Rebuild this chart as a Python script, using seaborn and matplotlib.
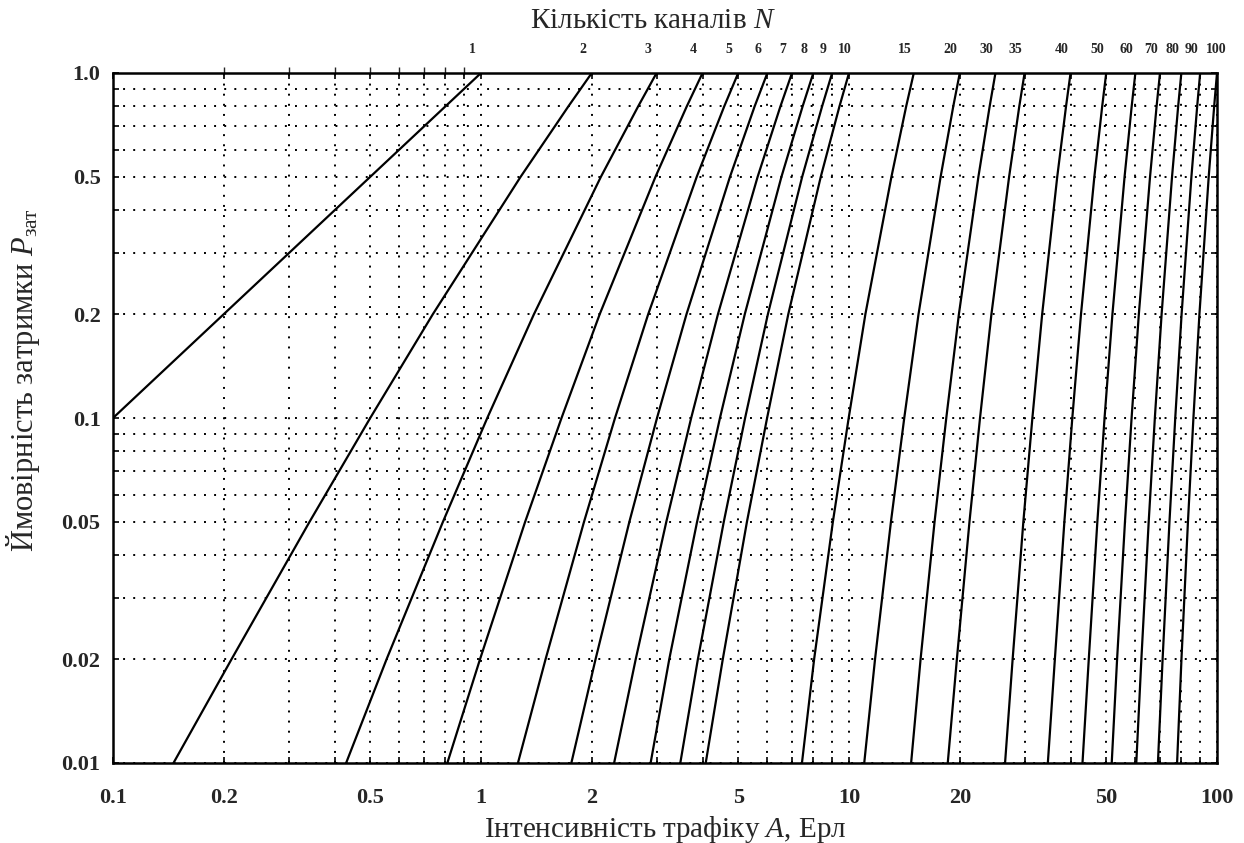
import numpy as np
import pandas as pd
import matplotlib
matplotlib.use("Agg")
import matplotlib.pyplot as plt
import matplotlib.transforms as mtrans
from matplotlib.ticker import FixedLocator, NullFormatter
import seaborn as sns

# ---- data (traffic A, Erl, where each curve crosses a given P) ----
channels = [1, 2, 3, 4, 5, 6, 7, 8, 9, 10, 15, 20, 25, 30, 40, 50, 60, 70, 80, 90, 100]
top_labels = ["1", "2", "3", "4", "5", "6", "7", "8", "9", "10", "15", "20",
              "30", "35", "40", "50", "60", "70", "80", "90", "100"]
nan = np.nan
p_levels = [0.01, 0.02, 0.05, 0.1, 0.2, 0.5, 0.8, 1.0]
A_p001 = [nan, 0.146, 0.43, 0.81, 1.26, 1.76, 2.30, 2.89, 3.48, 4.08, 7.45, 11.0,
          14.75, 18.55, 26.55, 34.7, 43.1, 51.75, 60.35, 69.1, 77.9]
A_p002 = [nan, 0.210, 0.554, 0.994, 1.498, 2.048, 2.633, 3.248, 3.885, 4.54, 8.04, 11.77,
          15.65, 19.64, 27.84, 36.26, 44.83, 53.52, 62.30, 71.15, 80.06]
A_p005 = [nan, 0.342, 0.788, 1.318, 1.905, 2.53, 3.188, 3.865, 4.568, 5.28, 9.04, 13.0,
          17.08, 21.25, 29.77, 38.48, 47.30, 56.22, 65.22, 74.27, 83.38]
A_p01 = [0.1, 0.5, 1.04, 1.655, 2.313, 3.008, 3.725, 4.46, 5.22, 5.99, 9.98, 14.13,
         18.38, 22.70, 31.50, 40.44, 49.48, 58.60, 67.78, 77.01, 86.28]
A_p02 = [0.2, 0.740, 1.393, 2.102, 2.847, 3.618, 4.405, 5.21, 6.02, 6.84, 11.08, 15.45,
         19.89, 24.38, 33.49, 42.70, 51.98, 61.32, 70.71, 80.13, 89.59]
A_p05 = [0.5, 1.281, 2.117, 2.979, 3.856, 4.748, 5.645, 6.552, 7.46, 8.38, 13.04, 17.74,
         22.47, 27.23, 36.80, 46.42, 56.08, 65.77, 75.47, 85.20, 94.94]
A_p08 = [0.8, 1.727, 2.673, 3.623, 4.58, 5.54, 6.51, 7.48, 8.45, 9.42, 14.30, 19.20,
         24.11, 29.02, 38.88, 48.75, 58.63, 68.52, 78.42, 88.33, 98.24]
A_p1 = [1, 2, 3, 4, 5, 6, 7, 8, 9, 10, 15, 20, 25, 30, 40, 50, 60, 70, 80, 90, 100]

x_ticks = [0.1, 0.2, 0.5, 1, 2, 5, 10, 20, 50, 100]
x_ticklabels = ["0.1", "0.2", "0.5", "1", "2", "5", "10", "20", "50", "100"]
y_ticks = [0.01, 0.02, 0.05, 0.1, 0.2, 0.5, 1.0]
y_ticklabels = ["0.01", "0.02", "0.05", "0.1", "0.2", "0.5", "1.0"]

columns = (A_p001, A_p002, A_p005, A_p01, A_p02, A_p05, A_p08, A_p1)
rows = []
for i, n in enumerate(channels):
    for p, col in zip(p_levels, columns):
        a = col[i]
        if not np.isnan(a):
            rows.append({"N": n, "A": a, "P": p})
df = pd.DataFrame(rows)

# ---- style ----
sns.set_theme(style="white")
plt.rcParams["font.family"] = ["Liberation Serif", "DejaVu Serif"]
plt.rcParams["mathtext.fontset"] = "custom"
plt.rcParams["mathtext.rm"] = "Liberation Serif"
plt.rcParams["mathtext.it"] = "Liberation Serif:italic"
plt.rcParams["mathtext.bf"] = "Liberation Serif:bold"

fig = plt.figure(figsize=(12.44, 8.43), dpi=100)
ax = fig.add_axes([113 / 1244, 80 / 843, 1104 / 1244, 690 / 843])

sns.lineplot(data=df, x="A", y="P", units="N", estimator=None, sort=False,
             color="black", linewidth=1.6, ax=ax, legend=False)

ax.set_xscale("log")
ax.set_yscale("log")
ax.set_xlim(0.1, 100)
ax.set_ylim(0.01, 1.0)

minor_x = [m * d for d in (0.1, 1, 10) for m in range(1, 10)] + [100]
minor_x = [v for v in minor_x if not any(abs(v - t) < 1e-9 for t in x_ticks)]
minor_y = [m * d for d in (0.01, 0.1) for m in range(1, 10)] + [1.0]
minor_y = [v for v in minor_y if not any(abs(v - t) < 1e-9 for t in y_ticks)]

ax.xaxis.set_major_locator(FixedLocator(x_ticks))
ax.xaxis.set_minor_locator(FixedLocator(minor_x))
ax.yaxis.set_major_locator(FixedLocator(y_ticks))
ax.yaxis.set_minor_locator(FixedLocator(minor_y))
ax.set_xticklabels(x_ticklabels)
ax.set_yticklabels(y_ticklabels)
ax.xaxis.set_minor_formatter(NullFormatter())
ax.yaxis.set_minor_formatter(NullFormatter())

grid_kw = dict(color="black", linestyle=(0, (1, 4.2)), linewidth=1.4)
ax.grid(True, which="both", axis="both", **grid_kw)

ax.tick_params(which="both", direction="in", length=4, width=1.2,
               top=True, right=True, bottom=True, left=True, color="black")
ax.tick_params(axis="x", which="major", pad=18, labelsize=16)
ax.tick_params(axis="y", which="major", pad=9, labelsize=16)
for lab in ax.get_xticklabels() + ax.get_yticklabels():
    lab.set_fontweight("bold")

for s in ax.spines.values():
    s.set_visible(True)
    s.set_color("black")
    s.set_linewidth(1.8)

ax.set_xlabel("Інтенсивність трафіку $A$, Ерл", fontsize=21, labelpad=4)
ax.set_ylabel("Ймовірність затримки $P_{\\mathrm{зат}}$", fontsize=22)
ax.yaxis.set_label_coords(-0.064, 0.555)

secax = ax.secondary_xaxis("top")
secax.set_xticks(A_p1)
secax.set_xticklabels(top_labels)
secax.tick_params(length=0, pad=12, labelsize=10)
label_shift_px = {"10": -4, "100": -1}
for lab in secax.get_xticklabels():
    lab.set_fontweight("bold")
    dx = label_shift_px.get(lab.get_text(), -9)
    lab.set_transform(lab.get_transform() + mtrans.ScaledTranslation(dx / 100, 0, fig.dpi_scale_trans))
secax.spines["top"].set_visible(False)

fig.text(653 / 1244, 1 - 21 / 843, "Кількість каналів $N$", fontsize=21,
         ha="center", va="center")

fig.savefig("out.png", dpi=100, facecolor="white")
